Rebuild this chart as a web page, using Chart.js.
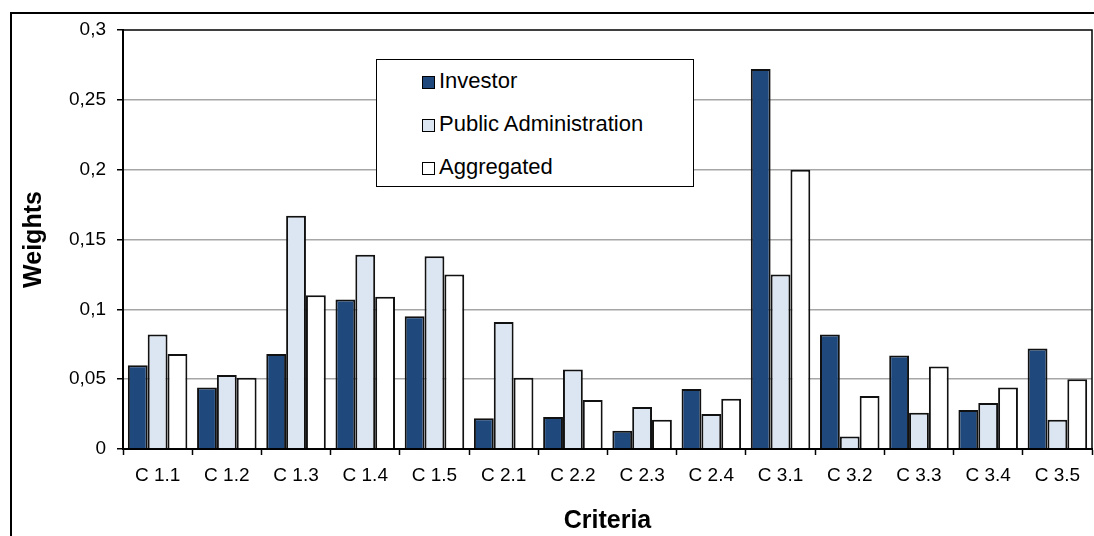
<!DOCTYPE html>
<html>
<head>
<meta charset="utf-8">
<script src="https://cdn.jsdelivr.net/npm/chart.js@4"></script>
<style>
  html, body { margin: 0; padding: 0; background: #fff; overflow: hidden; }
  #wrap { position: relative; width: 1094px; height: 536px; }
  #frame {
    position: absolute; left: 10px; top: 12px; width: 1200px; height: 700px;
    border: 2px solid #000; box-sizing: border-box; pointer-events: none;
  }
  #chart { position: absolute; left: 0; top: 0; }
  #legend {
    position: absolute; left: 376px; top: 59px; width: 318px; height: 128px;
    border: 1.5px solid #000; background: #fff; box-sizing: border-box;
    font-family: "Liberation Sans", Arial, sans-serif; font-size: 22px; color: #000;
  }
  #legend .item { position: absolute; left: 45px; height: 24px; line-height: 24px; white-space: nowrap; }
  #legend .sw {
    display: inline-block; width: 13px; height: 13px; border: 1.5px solid #000;
    box-sizing: border-box; vertical-align: -1px; margin-right: 4px;
  }
</style>
</head>
<body>
<div id="wrap">
  <div id="frame"></div>
  <canvas id="chart" width="1094" height="536"></canvas>
  <div id="legend"></div>
</div>
<script>
// criteria weights
const categories = ["C 1.1", "C 1.2", "C 1.3", "C 1.4", "C 1.5", "C 2.1", "C 2.2",
  "C 2.3", "C 2.4", "C 3.1", "C 3.2", "C 3.3", "C 3.4", "C 3.5"];
const investor = [0.060, 0.044, 0.068, 0.107, 0.095, 0.022, 0.023, 0.013, 0.043,
  0.272, 0.082, 0.067, 0.028, 0.072];
const publicAdmin = [0.082, 0.053, 0.167, 0.139, 0.138, 0.091, 0.057, 0.030, 0.025,
  0.125, 0.009, 0.026, 0.033, 0.021];
const aggregated = [0.068, 0.051, 0.110, 0.109, 0.125, 0.051, 0.035, 0.021, 0.036,
  0.200, 0.038, 0.059, 0.044, 0.050];
const yTickLabels = ["0", "0,05", "0,1", "0,15", "0,2", "0,25", "0,3"];

const FONT = "'Liberation Sans', Arial, sans-serif";

const series = [
  { label: "Investor", data: investor, color: "#1F497D" },
  { label: "Public Administration", data: publicAdmin, color: "#DCE6F2" },
  { label: "Aggregated", data: aggregated, color: "#FFFFFF" },
];

// plot frame (top/right edges of the plot area)
const plotFrame = {
  id: "plotFrame",
  afterDraw(chart) {
    const { ctx, chartArea: a } = chart;
    ctx.save();
    ctx.strokeStyle = "#000";
    ctx.lineWidth = 1.5;
    ctx.strokeRect(a.left, a.top, a.right - a.left, a.bottom - a.top);
    ctx.restore();
  },
};

const chart = new Chart(document.getElementById("chart"), {
  type: "bar",
  data: {
    labels: categories,
    datasets: series.map((s) => ({
      label: s.label,
      data: s.data,
      backgroundColor: s.color,
      borderColor: "#111",
      borderWidth: 2,
      categoryPercentage: 0.86,
      barPercentage: 1.0,
    })),
  },
  options: {
    responsive: false,
    animation: false,
    layout: { padding: { top: 30, right: 2, bottom: 0, left: 0 } },
    plugins: { legend: { display: false }, tooltip: { enabled: false } },
    scales: {
      x: {
        offset: true,
        grid: {
          offset: true,
          drawOnChartArea: false,
          drawTicks: true,
          tickLength: 6,
          tickColor: "#000",
          tickWidth: 1.5,
        },
        border: { display: true, color: "#000", width: 2 },
        ticks: { color: "#000", font: { family: FONT, size: 19 }, padding: 9, maxRotation: 0 },
        title: {
          display: true,
          text: "Criteria",
          color: "#000",
          font: { family: FONT, size: 25, weight: "bold" },
          padding: { top: 0, bottom: 0 },
        },
        afterFit(scale) { scale.height = 87; },
      },
      y: {
        min: 0,
        max: 0.3,
        ticks: {
          stepSize: 0.05,
          color: "#000",
          font: { family: FONT, size: 19 },
          padding: 11,
          callback: (v, i) => yTickLabels[i],
        },
        grid: {
          color: (c) => (c.index === 0 || c.index === yTickLabels.length - 1 ? "rgba(0,0,0,0)" : "#A6A6A6"),
          lineWidth: 1.5,
          drawTicks: true,
          tickLength: 6,
          tickColor: "#000",
        },
        border: { display: true, color: "#000", width: 2 },
        title: {
          display: true,
          text: "Weights",
          color: "#000",
          font: { family: FONT, size: 25, weight: "bold" },
          padding: { top: 19, bottom: 0 },
        },
        afterFit(scale) { scale.width = 123; },
      },
    },
  },
  plugins: [plotFrame],
});

// legend box inside the plot, built from the datasets
const legendEl = document.getElementById("legend");
const rowTops = [9, 52, 95];
chart.data.datasets.forEach((ds, i) => {
  const item = document.createElement("div");
  item.className = "item";
  item.style.top = rowTops[i] + "px";
  const sw = document.createElement("span");
  sw.className = "sw";
  sw.style.background = ds.backgroundColor;
  item.appendChild(sw);
  item.appendChild(document.createTextNode(ds.label));
  legendEl.appendChild(item);
});
</script>
</body>
</html>
